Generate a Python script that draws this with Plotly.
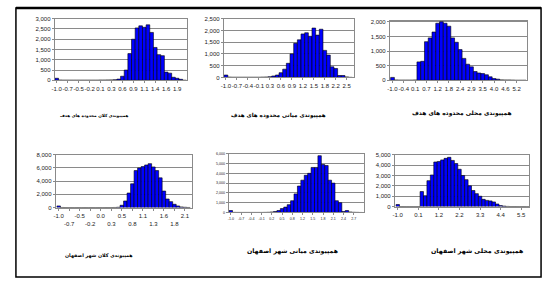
import plotly.graph_objects as go

W, H = 552, 284

# ---------------- data ----------------
counts_1 = [100, 10, 5, 5, 5, 5, 5, 5, 5, 5, 5, 5, 10, 10, 15, 20, 30, 60, 200, 500,
            1300, 2000, 2550, 2650, 2580, 2700, 2330, 1600, 1250, 1200, 400, 350, 150, 100, 50, 0]
ticks_1 = ["-1.0", "-0.7", "-0.5", "-0.2", "0.1", "0.3", "0.6", "0.9", "1.1", "1.4", "1.6", "1.9"]

counts_2 = [100, 10, 5, 5, 5, 5, 5, 5, 5, 5, 10, 15, 30, 60, 100, 200, 350, 600, 1000, 1450,
            1600, 1850, 1900, 1750, 2100, 1800, 2050, 1150, 950, 450, 380, 80, 80, 20, 0]
ticks_2 = ["-1.0", "-0.7", "-0.4", "-0.1", "0.3", "0.6", "0.9", "1.2", "1.5", "1.8", "2.2", "2.5"]

counts_3 = [100, 10, 5, 5, 5, 5, 10, 630, 650, 1320, 1450, 1650, 1950, 2000, 1950, 1850, 1450,
            1300, 1050, 750, 550, 460, 300, 250, 230, 190, 120, 60, 40, 15, 10, 10, 5, 0, 0, 0]
ticks_3 = ["-1.0", "-0.4", "0.1", "0.7", "1.2", "1.8", "2.4", "2.9", "3.5", "4.0", "4.6", "5.2"]

counts_4 = [250, 20, 10, 5, 5, 5, 5, 5, 5, 5, 5, 5, 5, 5, 10, 10, 20, 50, 350, 1000, 2200,
            3600, 5600, 6000, 6200, 6450, 6650, 6150, 5600, 4500, 2500, 1300, 900, 500, 250, 100, 50, 20]
ticks_4 = ["-1.0", "<br>-0.7", "-0.5", "<br>-0.2", "0.0", "<br>0.3", "0.5", "<br>0.8",
           "1.1", "<br>1.3", "1.6", "<br>1.8", "2.1"]

counts_5 = [200, 10, 5, 5, 5, 5, 5, 5, 5, 5, 10, 20, 50, 100, 200, 400, 550, 800, 1200, 1900,
            2700, 3300, 3800, 4000, 4600, 4600, 5800, 4900, 4800, 3300, 3000, 1200, 1000, 100, 200, 50, 20, 10, 0]
ticks_5 = ["-1.0", "-0.7", "-0.4", "-0.1", "0.2", "0.5", "0.8", "1.2", "1.5", "1.8", "2.1", "2.4", "2.7"]

counts_6 = [200, 10, 5, 5, 5, 5, 10, 1450, 1050, 2500, 3050, 4300, 4350, 4500, 4650, 4750, 4450,
            4150, 3600, 3000, 2600, 2000, 1550, 1250, 1000, 700, 600, 550, 450, 250, 100, 50, 20, 10, 10, 5, 5, 5, 0]
ticks_6 = ["-1.0", "0.1", "1.2", "2.2", "3.3", "4.4", "5.5"]

captions = [
    "همپیوندی کلان محدوده های هدف",
    "همپیوندی میانی محدوده های هدف",
    "همپیوندی محلی محدوده های هدف",
    "همپیوندی کلان شهر اصفهان",
    "همپیوندی میانی شهر اصفهان",
    "همپیوندی محلی شهر اصفهان",
]

# ---------------- layout specs (pixels) ----------------
specs = [
    dict(c=counts_1, t=ticks_1, step=3, ymax=3000, dy=500, px=(52, 185), py=(16, 79),
         xr=(-0.55, 35.7), fs=6, yfs=6, cap=(91, 115, 4.2)),
    dict(c=counts_2, t=ticks_2, step=3, ymax=2500, dy=500, px=(222, 353), py=(16, 76),
         xr=(-0.6, 35.0), fs=6, yfs=6, cap=(277, 115, 5.6)),
    dict(c=counts_3, t=ticks_3, step=3, ymax=2040, dy=500, px=(389, 527), py=(18, 79),
         xr=(-0.7, 35.8), fs=6, yfs=6, cap=(462, 113, 5.9)),
    dict(c=counts_4, t=ticks_4, step=3, ymax=8000, dy=2000, px=(53, 190), py=(155, 209),
         xr=(-0.85, 38.0), fs=6, yfs=6, cap=(97, 258, 4.8)),
    dict(c=counts_5, t=ticks_5, step=3, ymax=6000, dy=1000, px=(227, 363), py=(154, 214),
         xr=(-0.6, 39.0), fs=3.6, yfs=3.6, cap=(291, 253, 6.2)),
    dict(c=counts_6, t=ticks_6, step=6, ymax=5000, dy=1000, px=(394, 529), py=(155, 208),
         xr=(-0.85, 38.3), fs=6, yfs=6, cap=(477, 253, 6.3)),
]

fig = go.Figure()
layout = dict(
    width=W, height=H, margin=dict(l=0, r=0, t=0, b=0),
    paper_bgcolor="white", plot_bgcolor="white", showlegend=False,
    bargap=0, annotations=[], shapes=[],
)

for k, s in enumerate(specs):
    suf = "" if k == 0 else str(k + 1)
    n = len(s["c"])
    fig.add_trace(go.Bar(
        x=list(range(n)), y=s["c"], width=1.0,
        xaxis="x" + suf, yaxis="y" + suf,
        marker=dict(color="#0000FF", line=dict(color="black", width=0.6)),
        hoverinfo="skip",
    ))
    tv = list(range(0, n, s["step"]))[:len(s["t"])]
    layout["xaxis" + suf] = dict(
        domain=[s["px"][0] / W, s["px"][1] / W], range=list(s["xr"]),
        anchor="y" + suf, tickvals=tv, ticktext=s["t"], tickangle=0,
        tickfont=dict(family="Liberation Sans", size=s["fs"], color="#222"),
        showgrid=False, showline=True, linecolor="#8a8a8a", linewidth=1, mirror=True,
        ticks="outside", ticklen=2, tickcolor="#8a8a8a", zeroline=False, fixedrange=True,
    )
    layout["yaxis" + suf] = dict(
        domain=[1 - s["py"][1] / H, 1 - s["py"][0] / H], range=[0, s["ymax"]],
        anchor="x" + suf, dtick=s["dy"], tickformat=",",
        tickfont=dict(family="Liberation Sans", size=s["yfs"], color="#222"),
        showgrid=True, gridcolor="#8a8a8a", gridwidth=1,
        showline=True, linecolor="#8a8a8a", linewidth=1, mirror=True,
        ticks="outside", ticklen=2, tickcolor="#8a8a8a", zeroline=False, fixedrange=True,
    )
    cx, cy, cs = s["cap"]
    layout["annotations"].append(dict(
        text="<b>" + captions[k] + "</b>", x=cx / W, y=1 - cy / H, xref="paper", yref="paper",
        xanchor="center", yanchor="middle", showarrow=False,
        font=dict(family="DejaVu Sans", size=cs, color="black"),
    ))

# outer frame
layout["shapes"].append(dict(type="rect", xref="paper", yref="paper",
                             x0=13 / W, x1=541 / W, y0=1 - 280 / H, y1=1 - 5 / H,
                             line=dict(color="black", width=1.5)))
layout["shapes"].append(dict(type="line", xref="paper", yref="paper",
                             x0=13 / W, x1=541 / W, y0=1 - 5 / H, y1=1 - 5 / H,
                             line=dict(color="black", width=2.5)))

fig.update_layout(**layout)
fig.write_html("out.html", config={"displayModeBar": False, "staticPlot": True},
               post_script="document.body.style.margin='0';document.body.style.overflow='hidden';")
